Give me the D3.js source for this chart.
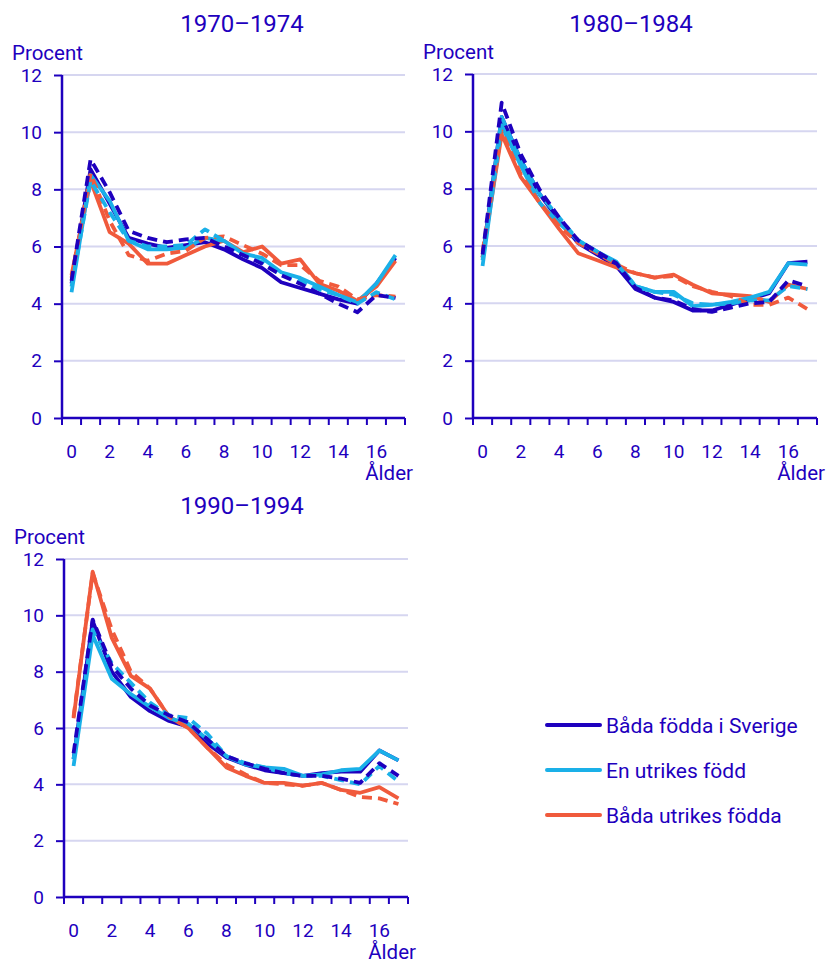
<!DOCTYPE html>
<html><head><meta charset="utf-8">
<script src="https://cdn.jsdelivr.net/npm/d3@7"></script>
<style>body{margin:0;background:#fff}svg{display:block;font-family:Roboto,"Noto Sans",sans-serif}</style>
</head><body>
<svg id="c" width="829" height="966"></svg>
<script>
const ages = [0,1,2,3,4,5,6,7,8,9,10,11,12,13,14,15,16,17];
const xTickLabels = [0,2,4,6,8,10,12,14,16];
const yTicks = [0,2,4,6,8,10,12];
const seriesNames = ["Båda födda i Sverige","En utrikes född","Båda utrikes födda"];
const seriesColors = ["#1e00be","#1ab0e8","#f05a3c"];
const panelTitles = ["1970–1974","1980–1984","1990–1994"];

// 1970–1974
const p1_bothSweden      = [4.7,8.7,7.5,6.3,6.1,5.95,6.05,6.15,5.9,5.55,5.25,4.75,4.55,4.35,4.15,4.0,4.7,5.6];
const p1_bothSweden_d    = [4.8,9.05,7.9,6.55,6.3,6.15,6.25,6.3,6.0,5.7,5.4,5.0,4.7,4.35,4.0,3.7,4.3,4.2];
const p1_oneForeign      = [4.4,8.5,7.6,6.2,5.9,5.9,5.95,6.3,6.2,5.75,5.6,5.1,4.9,4.6,4.3,4.05,4.7,5.7];
const p1_oneForeign_d    = [4.6,8.3,7.2,6.2,6.0,6.0,6.05,6.6,6.2,5.7,5.45,5.0,4.8,4.5,4.3,4.0,4.4,4.15];
const p1_bothForeign     = [5.0,8.3,6.5,6.1,5.4,5.4,5.7,6.0,6.2,5.8,6.0,5.4,5.55,4.7,4.45,4.1,4.6,5.5];
const p1_bothForeign_d   = [4.9,8.55,6.9,5.7,5.5,5.75,5.85,6.3,6.35,6.05,5.75,5.35,5.35,4.8,4.6,4.15,4.3,4.25];
// 1980–1984
const p2_bothSweden      = [5.6,10.5,9.0,7.8,6.9,6.1,5.7,5.3,4.5,4.2,4.05,3.75,3.75,3.95,4.15,4.35,5.4,5.45];
const p2_bothSweden_d    = [5.7,11.0,9.2,7.95,7.0,6.2,5.8,5.4,4.55,4.2,4.1,3.8,3.7,3.85,4.0,4.05,4.8,4.6];
const p2_oneForeign      = [5.3,10.2,8.8,7.5,6.8,6.2,5.8,5.45,4.6,4.4,4.4,3.9,3.95,4.05,4.2,4.4,5.4,5.35];
const p2_oneForeign_d    = [5.5,10.5,9.0,7.8,7.0,6.2,5.8,5.4,4.6,4.4,4.3,4.0,3.95,4.0,4.1,4.1,4.6,4.5];
const p2_bothForeign     = [5.6,9.9,8.4,7.5,6.6,5.75,5.5,5.25,5.05,4.9,5.0,4.65,4.35,4.3,4.25,4.05,4.65,4.5];
const p2_bothForeign_d   = [5.8,10.0,8.5,7.5,6.7,6.1,5.75,5.35,5.05,4.9,4.95,4.6,4.4,4.25,3.95,3.95,4.2,3.8];
// 1990–1994
const p3_bothSweden      = [4.9,9.8,8.0,7.1,6.6,6.25,6.05,5.45,4.95,4.7,4.5,4.4,4.3,4.4,4.45,4.45,5.2,4.85];
const p3_bothSweden_d    = [5.1,9.85,8.2,7.4,6.8,6.45,6.2,5.6,5.0,4.75,4.55,4.4,4.3,4.3,4.2,4.05,4.75,4.3];
const p3_oneForeign      = [4.65,9.3,7.75,7.2,6.75,6.35,6.15,5.6,5.0,4.7,4.6,4.55,4.3,4.35,4.5,4.55,5.2,4.85];
const p3_oneForeign_d    = [4.9,9.5,8.3,7.6,6.9,6.45,6.35,5.8,5.0,4.75,4.6,4.4,4.3,4.3,4.15,4.0,4.65,4.1];
const p3_bothForeign     = [6.35,11.55,9.2,7.85,7.4,6.4,6.0,5.3,4.6,4.3,4.05,4.05,3.95,4.05,3.8,3.7,3.9,3.5];
const p3_bothForeign_d   = [6.4,11.5,9.5,8.0,7.4,6.4,6.0,5.3,4.7,4.35,4.05,4.0,3.95,4.05,3.8,3.55,3.5,3.3];

const panelsData = [
  {solid:[p1_bothSweden,p1_oneForeign,p1_bothForeign], dashed:[p1_bothSweden_d,p1_oneForeign_d,p1_bothForeign_d]},
  {solid:[p2_bothSweden,p2_oneForeign,p2_bothForeign], dashed:[p2_bothSweden_d,p2_oneForeign_d,p2_bothForeign_d]},
  {solid:[p3_bothSweden,p3_oneForeign,p3_bothForeign], dashed:[p3_bothSweden_d,p3_oneForeign_d,p3_bothForeign_d]}
];

const textColor = "#1e00be";
const gridColor = "#d6d6f0";
const svg = d3.select("#c");

const layouts = [
  {x0:62, x1:405, y0:75, y1:418, titleX:242, titleY:32},
  {x0:473, x1:817, y0:74, y1:418, titleX:631, titleY:32},
  {x0:64, x1:408, y0:559, y1:897, titleX:242, titleY:514}
];

panelsData.forEach((pd, pi) => {
  const L = layouts[pi];
  const g = svg.append("g");
  const x = d3.scaleBand().domain(ages).range([L.x0, L.x1]).paddingInner(0).paddingOuter(0);
  const y = d3.scaleLinear().domain([0,12]).range([L.y1, L.y0]);

  // grid
  g.selectAll(".grid").data(yTicks.filter(d=>d>0)).join("line")
    .attr("x1", L.x0).attr("x2", L.x1)
    .attr("y1", d=>y(d)).attr("y2", d=>y(d))
    .attr("stroke", gridColor).attr("stroke-width", 2);

  // y axis
  const ya = g.append("g").attr("transform", `translate(${L.x0},0)`)
    .call(d3.axisLeft(y).tickValues(yTicks).tickSize(8).tickPadding(12));
  ya.select(".domain").attr("stroke", textColor).attr("stroke-width", 2.5).attr("d", `M0,${L.y0}V${L.y1}`);
  ya.selectAll(".tick line").attr("stroke", textColor).attr("stroke-width", 2);
  ya.selectAll("text").attr("fill", textColor).style("font-size","19px").style("font-family","Roboto");

  // x axis (ticks at band boundaries, labels at centers)
  const xa = g.append("g").attr("transform", `translate(0,${L.y1})`);
  xa.append("line").attr("x1", L.x0).attr("x2", L.x1).attr("stroke", textColor).attr("stroke-width", 2.5);
  const bounds = ages.map(a => x(a)).concat([x(ages[ages.length-1]) + x.bandwidth()]);
  xa.selectAll(".xt").data(bounds).join("line")
    .attr("x1", d=>d).attr("x2", d=>d).attr("y1", 0).attr("y2", 7)
    .attr("stroke", textColor).attr("stroke-width", 2);
  xa.selectAll(".xl").data(xTickLabels).join("text")
    .attr("x", d => x(d) + x.bandwidth()/2).attr("y", 40)
    .attr("text-anchor","middle").attr("fill", textColor)
    .style("font-size","19px").text(d=>d);

  // axis titles
  g.append("text").attr("x", L.x0 - 50).attr("y", L.y0 - 15)
    .attr("fill", textColor).style("font-size","20.5px").text("Procent");
  g.append("text").attr("x", L.x1 + 8).attr("y", L.y1 + 62)
    .attr("text-anchor","end").attr("fill", textColor).style("font-size","20.5px").text("Ålder");

  // title
  g.append("text").attr("x", L.titleX).attr("y", L.titleY)
    .attr("text-anchor","middle").attr("fill", textColor).style("font-size","24px").text(panelTitles[pi]);

  const line = d3.line().x((d,i)=>x(ages[i]) + x.bandwidth()/2).y(d=>y(d));
  const order = [[0,"s"],[2,"s"],[1,"s"],[2,"d"],[1,"d"],[0,"d"]];
  order.forEach(([si, kind]) => {
    const data = kind === "s" ? pd.solid[si] : pd.dashed[si];
    g.append("path").datum(data).attr("d", line)
      .attr("fill","none").attr("stroke", seriesColors[si]).attr("stroke-width", 3.8)
      .attr("stroke-linejoin","round")
      .attr("stroke-dasharray", kind === "d" ? "10,6" : null);
  });
});

// legend
const lg = svg.append("g");
seriesNames.forEach((name, i) => {
  const yy = 725 + i*45;
  lg.append("line").attr("x1", 547).attr("x2", 600).attr("y1", yy).attr("y2", yy)
    .attr("stroke", seriesColors[i]).attr("stroke-width", 4).attr("stroke-linecap","round");
  lg.append("text").attr("x", 606).attr("y", yy + 7.5).attr("fill", textColor)
    .style("font-size","21px").text(name);
});
</script>
</body></html>
